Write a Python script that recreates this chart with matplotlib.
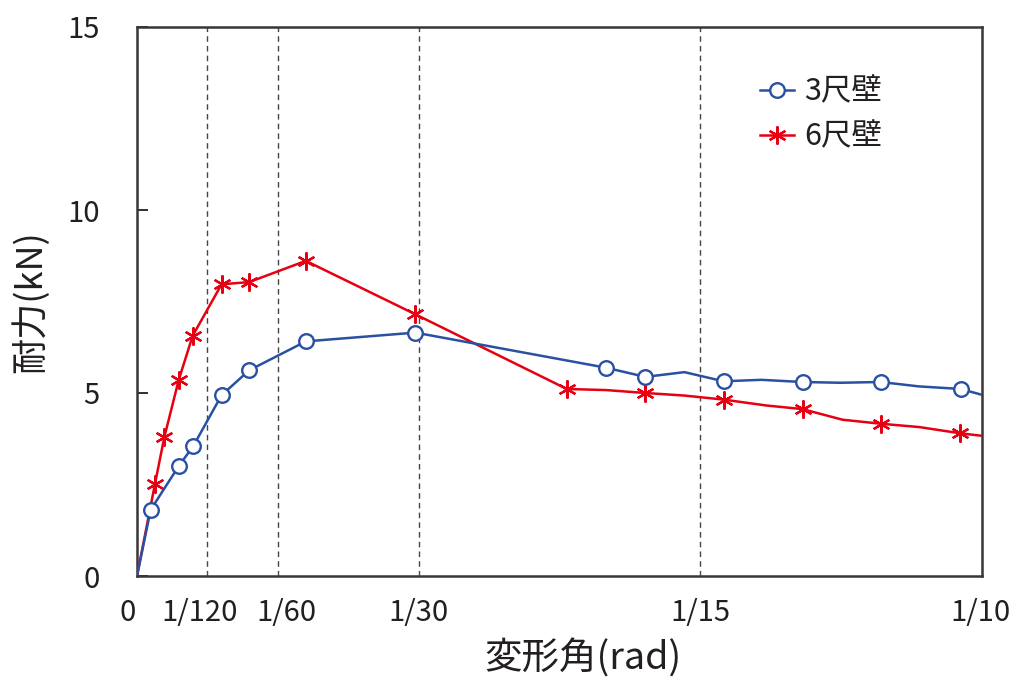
import matplotlib
matplotlib.use("Agg")
import matplotlib.pyplot as plt
import matplotlib.transforms as mtransforms
import numpy as np

# ---- data ----
x_3 = [0.0, 0.00162, 0.00493, 0.00666, 0.01001, 0.01327, 0.01998, 0.03294,
       0.05552, 0.06017, 0.06478, 0.06942, 0.07388, 0.07876, 0.08322,
       0.08803, 0.09255, 0.09748, 0.1]
y_3 = [0.0, 1.81, 3.00, 3.55, 4.94, 5.62, 6.41, 6.65,
       5.69, 5.44, 5.57, 5.32, 5.36, 5.30, 5.28,
       5.30, 5.18, 5.11, 4.95]
mark_3 = [0, 1, 1, 1, 1, 1, 1, 1, 1, 1, 0, 1, 0, 1, 0, 1, 0, 1, 0]

x_6 = [0.0, 0.00213, 0.00323, 0.00493, 0.00658, 0.01001, 0.01327, 0.01998,
       0.03286, 0.05086, 0.05552, 0.06017, 0.06478, 0.06942, 0.07443,
       0.07876, 0.08349, 0.08803, 0.09255, 0.0974, 0.1]
y_6 = [0.0, 2.52, 3.79, 5.35, 6.56, 7.97, 8.03, 8.61,
       7.16, 5.11, 5.08, 5.00, 4.93, 4.82, 4.66,
       4.56, 4.27, 4.16, 4.07, 3.90, 3.83]
mark_6 = [0, 1, 1, 1, 1, 1, 1, 1, 1, 1, 0, 1, 0, 1, 0, 1, 0, 1, 0, 1, 0]

labels = ["3尺壁", "6尺壁"]
xtick_vals = [0, 1/120, 1/60, 1/30, 1/15, 1/10]
xtick_labels = ["0", "1/120", "1/60", "1/30", "1/15", "1/10"]
vlines = [1/120, 1/60, 1/30, 1/15]
yticks = [0, 5, 10, 15]

plt.rcParams['font.family'] = ['Noto Sans CJK JP', 'DejaVu Sans']

fig = plt.figure(figsize=(10.2, 7.0), dpi=100)
ax = fig.add_axes([137/1020, 1 - 576/700, (982 - 137)/1020, (576 - 27)/700])

blue = "#2a50a2"
red = "#e60012"
txt = "#231f20"

for v in vlines:
    ax.axvline(v, color="#444444", lw=1.0, ls=(0, (4, 3)), zorder=1)

ax.plot(x_6, y_6, color=red, lw=1.8, marker=(6, 2, 0), markersize=13,
        markeredgewidth=1.6, markevery=[bool(m) for m in mark_6],
        label=labels[1], zorder=3)
ax.plot(x_3, y_3, color=blue, lw=1.8, marker="o", markersize=10.5,
        markerfacecolor="white", markeredgecolor=blue, markeredgewidth=1.7,
        markevery=[bool(m) for m in mark_3], label=labels[0], zorder=4)

ax.set_xlim(0, 0.1)
ax.set_ylim(0, 15)

ax.set_xticks(xtick_vals)
ax.set_xticklabels(xtick_labels, fontsize=21, color=txt)
ax.set_yticks(yticks)
ax.set_yticklabels([str(t) for t in yticks], fontsize=21, color=txt)

ax.tick_params(axis='y', direction='in', length=8, width=1.3, pad=27, colors="#231f20",
               labelcolor=txt)
ax.tick_params(axis='x', direction='in', length=3, width=0.6, pad=16, colors="#555555",
               labelcolor=txt)

# shift crowded x tick labels horizontally (pixel offsets)
x_offsets = [-9, -8, 9, 0, 0, -2]
for lab, dx in zip(ax.get_xticklabels(), x_offsets):
    lab.set_transform(lab.get_transform() +
                      mtransforms.ScaledTranslation(dx / 100, 0, fig.dpi_scale_trans))

for s in ax.spines.values():
    s.set_linewidth(1.8)
    s.set_color("#3a3536")

ax.set_xlabel("変形角(rad)", fontsize=27, color=txt, labelpad=8)
ax.xaxis.label.set_x((583 - 137) / 845)
ax.set_ylabel("耐力(kN)", fontsize=26, color=txt, labelpad=13)

h, l = ax.get_legend_handles_labels()
leg = ax.legend([h[1], h[0]], [l[1], l[0]], loc="upper left",
                bbox_to_anchor=(0.705, 0.96), frameon=False, fontsize=22,
                handlelength=1.1, handletextpad=0.35, labelspacing=0.45,
                labelcolor=txt)

fig.savefig("out.png", dpi=100)
